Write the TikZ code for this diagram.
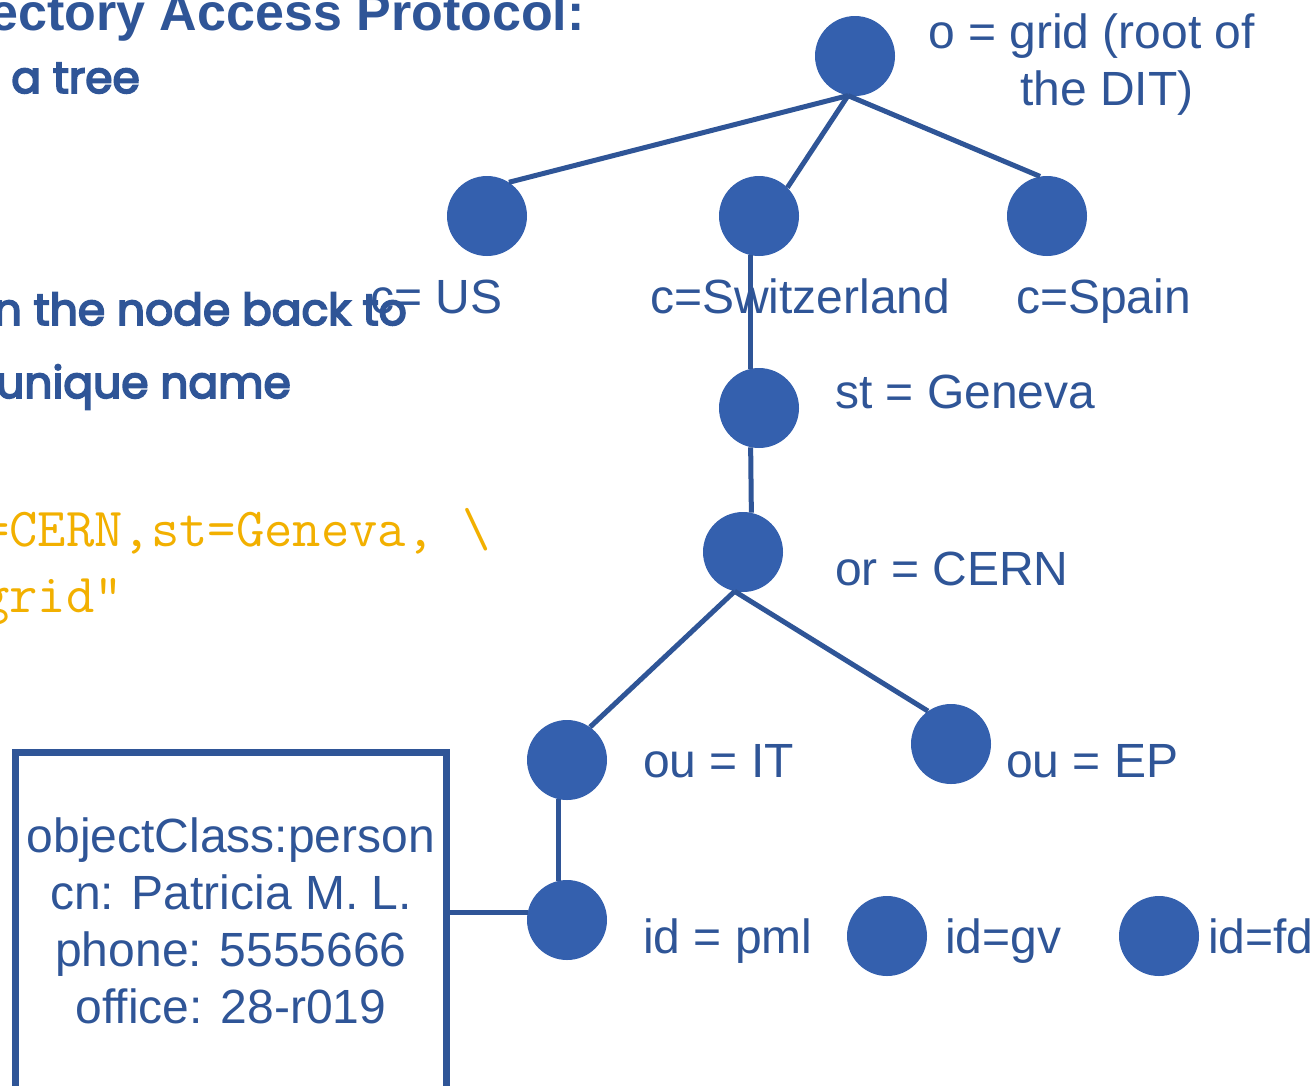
\documentclass[tikz,border=0pt]{standalone}
\usepackage{fontspec}
\setmainfont{Liberation Sans}
\newfontfamily\popfont[FakeBold=4]{Poppins}
\definecolor{nodefill}{RGB}{52,96,174}
\definecolor{ink}{RGB}{47,85,151}
\definecolor{gold}{RGB}{242,176,0}
\begin{document}
\begin{tikzpicture}[x=1pt,y=-1pt,
  dot/.style={circle,fill=nodefill,draw=none,minimum size=80pt,inner sep=0pt},
  edge/.style={draw=ink,line width=5pt},
  lbl/.style={text=ink,font=\fontsize{48}{57}\selectfont,inner sep=0pt,anchor=base west},
  side/.style={text=ink,font=\fontsize{44}{56}\popfont,inner sep=0pt,anchor=base east},
  code/.style={text=gold,font=\fontsize{55}{66}\ttfamily,inner sep=0pt,anchor=base west,align=left}]
\clip (0,0) rectangle (1313,1085);
\fill[white] (0,0) rectangle (1313,1085);
% left texts
\node[text=ink,font=\fontsize{52}{60}\selectfont\bfseries,inner sep=0pt,anchor=base east] (title) at (585,30) {ectory Access Protocol:};
\node[side] (tree) at (140,93) {a tree};
\node[side] (back) at (407,325) {n the node back to};
\node[side] (uniq) at (291,398) {unique name};
\node[code] (dn) at (-19,612) {=CERN,st=Geneva, \textbackslash\\grid”};
% tree nodes
\node[dot] (root) at (855,56) {};
\node[dot] (us) at (487,216) {};
\node[dot] (ch) at (759,216) {};
\node[dot] (es) at (1047,216) {};
\node[dot] (ge) at (759,408) {};
\node[dot] (cern) at (743,552) {};
\node[dot] (it) at (567,760) {};
\node[dot] (ep) at (951,744) {};
\node[dot] (pml) at (567,920) {};
\node[dot] (gv) at (887,936) {};
\node[dot] (fd) at (1159,936) {};
% entry box
\node[draw=ink,line width=7pt,outer sep=0pt,minimum width=431pt,minimum height=400pt,inner sep=0pt,anchor=north west] (box) at (15.5,752.5) {};
\node[lbl,anchor=center,align=center] (boxtext) at (231,921) {objectClass:person\\cn: Patricia M. L.\\phone: 5555666\\office: 28-r019};
% edges
\draw[edge] (root.-100) -- (us.57);
\draw[edge] (root.-100) -- (ch.45);
\draw[edge] (root.-100) -- (es.100);
\draw[edge] (ch.-102) -- (ge.102);
\draw[edge] (ge.-102) -- (cern.78);
\draw[edge] (cern.-102) -- (it.55);
\draw[edge] (cern.-102) -- (ep.125);
\draw[edge] (it.-102) -- (pml.102);
\draw[edge] (pml.169) -- (pml.169 -| box.east);
% labels
\node[lbl,align=left] (lroot) at (928,105) {o = grid (root of\\\hspace*{92pt}the DIT)};
\node[lbl] (lus) at (370,313) {c= US};
\node[lbl] (lch) at (650,313) {c=Switzerland};
\node[lbl] (les) at (1016,313) {c=Spain};
\node[lbl] (lge) at (835,408) {st = Geneva};
\node[lbl] (lcern) at (835,585) {or = CERN};
\node[lbl] (lit) at (643,777) {ou = IT};
\node[lbl] (lep) at (1006,777) {ou = EP};
\node[lbl] (lpml) at (643,953) {id = pml};
\node[lbl] (lgv) at (945,953) {id=gv};
\node[lbl] (lfd) at (1208,953) {id=fd};
\end{tikzpicture}
\end{document}
